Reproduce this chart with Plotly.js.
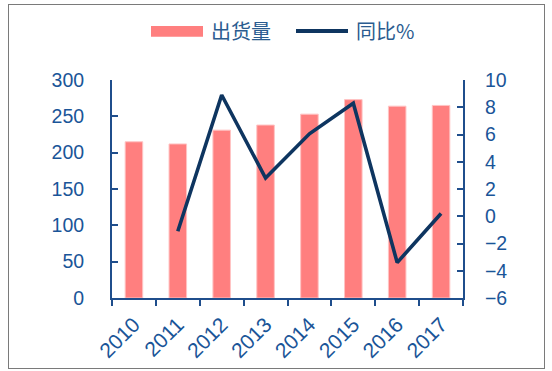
<!DOCTYPE html>
<html>
<head>
<meta charset="utf-8">
<script src="https://cdn.plot.ly/plotly-3.0.1.min.js"></script>
<style>
html,body{margin:0;padding:0;background:#fff;}
#wrap{position:relative;width:552px;height:371px;}
#frame{position:absolute;left:8px;top:4px;width:535px;height:363px;border:1.5px solid #7a7a7a;box-sizing:content-box;pointer-events:none;}
#chart{position:absolute;left:0;top:0;width:552px;height:371px;}
</style>
</head>
<body>
<div id="wrap"><div id="frame"></div><div id="chart"></div></div>
<script>
const years = ['2010','2011','2012','2013','2014','2015','2016','2017'];
const shipments = [215, 212, 231, 238, 253, 273, 264, 265];
const yoy = [null, -1.1, 8.9, 2.8, 6.05, 8.3, -3.4, 0.2];
const leftTicks = [0, 50, 100, 150, 200, 250, 300];
const rightTicks = [-6, -4, -2, 0, 2, 4, 6, 8, 10];
const barName = '出货量';
const lineName = '同比%';

const axisColor = '#1F4E8C';
const labelColor = '#1A5598';
const barColor = '#FF7F7F';
const lineColor = '#0E3560';
const tickFont = {family: 'Liberation Sans, Arial, sans-serif', size: 19.5, color: labelColor};
const xTickFont = {family: 'Liberation Sans, Arial, sans-serif', size: 21, color: labelColor};

const traces = [
  {type: 'bar', x: years, y: shipments, name: barName, width: 0.4,
   marker: {color: barColor, line: {color: '#FFC4C4', width: 1}}, showlegend: false},
  {type: 'scatter', mode: 'lines', x: years, y: yoy, name: lineName, yaxis: 'y2',
   line: {color: lineColor, width: 3.6}, connectgaps: false, showlegend: false}
];

const px = v => (v - 112) / 351;
const py = v => (298 - v) / 218;

const layout = {
  width: 552, height: 371,
  margin: {l: 112, r: 89, t: 80, b: 73},
  paper_bgcolor: 'rgba(0,0,0,0)', plot_bgcolor: 'rgba(0,0,0,0)',
  showlegend: false,
  xaxis: {type: 'category', showgrid: false, zeroline: false,
    showline: true, linecolor: axisColor, linewidth: 2,
    ticks: 'outside', tickson: 'boundaries', ticklen: 6, tickwidth: 2, tickcolor: axisColor,
    tickangle: -45, tickfont: xTickFont, range: [-0.5, 7.5], ticklabelstandoff: 4},
  yaxis: {range: [0, 300], tickvals: leftTicks, showgrid: false, zeroline: false,
    showline: true, linecolor: axisColor, linewidth: 2,
    ticks: 'inside', ticklen: 6, tickwidth: 2, tickcolor: axisColor,
    tickfont: tickFont, ticklabelstandoff: 22},
  yaxis2: {range: [-6, 10], tickvals: rightTicks, overlaying: 'y', side: 'right',
    showgrid: false, zeroline: false,
    showline: true, linecolor: axisColor, linewidth: 2,
    ticks: 'inside', ticklen: 6, tickwidth: 2, tickcolor: axisColor,
    tickfont: tickFont, ticklabelstandoff: 16},
  shapes: [
    {type: 'rect', xref: 'paper', yref: 'paper', x0: px(151), x1: px(203), y0: py(36.7), y1: py(26),
     fillcolor: barColor, line: {width: 0}},
    {type: 'line', xref: 'paper', yref: 'paper', x0: px(296), x1: px(348), y0: py(31), y1: py(31),
     line: {color: lineColor, width: 4}}
  ],
  annotations: [
    {xref: 'paper', yref: 'paper', x: px(209), y: py(31), xanchor: 'left', yanchor: 'middle',
     text: barName, showarrow: false,
     font: {family: 'Noto Sans CJK SC, sans-serif', size: 20, color: '#2B5C90'}},
    {xref: 'paper', yref: 'paper', x: px(354), y: py(31), xanchor: 'left', yanchor: 'middle',
     text: lineName, showarrow: false,
     font: {family: 'Noto Sans CJK SC, sans-serif', size: 20, color: '#2B5C90'}}
  ]
};

Plotly.newPlot('chart', traces, layout, {displayModeBar: false, staticPlot: true});
</script>
</body>
</html>
